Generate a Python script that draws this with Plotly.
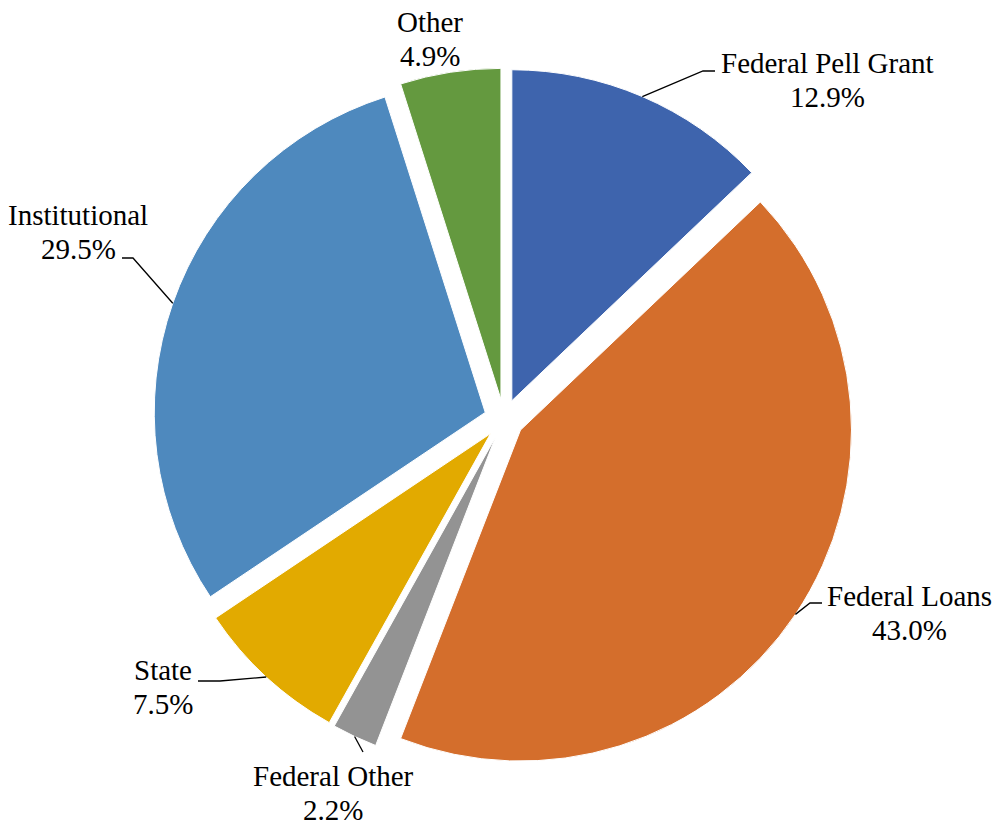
import math
import plotly.graph_objects as go

# ---- data ----
categories = ["Federal Pell Grant", "Federal Loans", "Federal Other", "State", "Institutional", "Other"]
values = [12.9, 43.0, 2.2, 7.5, 29.5, 4.9]
colors = ["#3E64AD", "#D46E2C", "#939393", "#E2AA00", "#4E89BE", "#64993F"]

# ---- layout / style ----
W, H = 998, 825
CX, CY = 504, 419          # pie centre (px)
R = 331                    # pie radius (px)
PULL = 0.06
HALF = R * (1 + PULL)
FONT = "Liberation Serif, Times New Roman, serif"
FS = 29
LINE_GAP = 34

# label centre x and first-line centre y (px) for each category
label_pos = {
    "Federal Pell Grant": (827, 63),
    "Federal Loans": (909, 596),
    "Federal Other": (333, 776),
    "State": (163, 670),
    "Institutional": (78, 215),
    "Other": (430, 22),
}
# leader-line bend/end points (px)
leader = {
    "Federal Pell Grant": [(703, 71), (715, 71)],
    "Federal Loans": [(810, 603), (822, 603)],
    "Federal Other": [(363, 752)],
    "State": [(220, 681), (198, 681)],
    "Institutional": [(133, 258), (122, 258)],
    "Other": None,
}


def px(x):
    return x / W


def py(y):
    return 1 - y / H


fig = go.Figure(go.Pie(
    labels=categories,
    values=values,
    sort=False,
    direction="clockwise",
    rotation=0,
    pull=[PULL] * len(values),
    marker=dict(colors=colors, line=dict(color="white", width=1)),
    textinfo="none",
    hoverinfo="label+percent",
    showlegend=False,
    domain=dict(x=[px(CX - HALF), px(CX + HALF)], y=[py(CY + HALF), py(CY - HALF)]),
))

total = sum(values)
annotations = []
shapes = []
cum = 0.0
for cat, v in zip(categories, values):
    theta = 2 * math.pi * (cum + v / 2) / total
    cum += v
    dx, dy = math.sin(theta), -math.cos(theta)
    lx, ly = label_pos[cat]
    for i, txt in enumerate([cat, f"{v:.1f}%"]):
        annotations.append(dict(
            x=px(lx), y=py(ly + i * LINE_GAP), xref="paper", yref="paper",
            text=txt, showarrow=False,
            xanchor="center", yanchor="middle", align="center",
            font=dict(family=FONT, size=FS, color="black"),
        ))
    pts = leader[cat]
    if pts:
        sx, sy = CX + R * (1 + PULL) * dx, CY + R * (1 + PULL) * dy
        path = f"M {px(sx)} {py(sy)}" + "".join(f" L {px(x)} {py(y)}" for x, y in pts)
        shapes.append(dict(type="path", xref="paper", yref="paper", path=path,
                           line=dict(color="black", width=1.3)))

fig.update_layout(
    width=W, height=H,
    margin=dict(l=0, r=0, t=0, b=0),
    paper_bgcolor="white", plot_bgcolor="white",
    annotations=annotations, shapes=shapes,
    font=dict(family=FONT),
)

fig.write_html("out.html")
